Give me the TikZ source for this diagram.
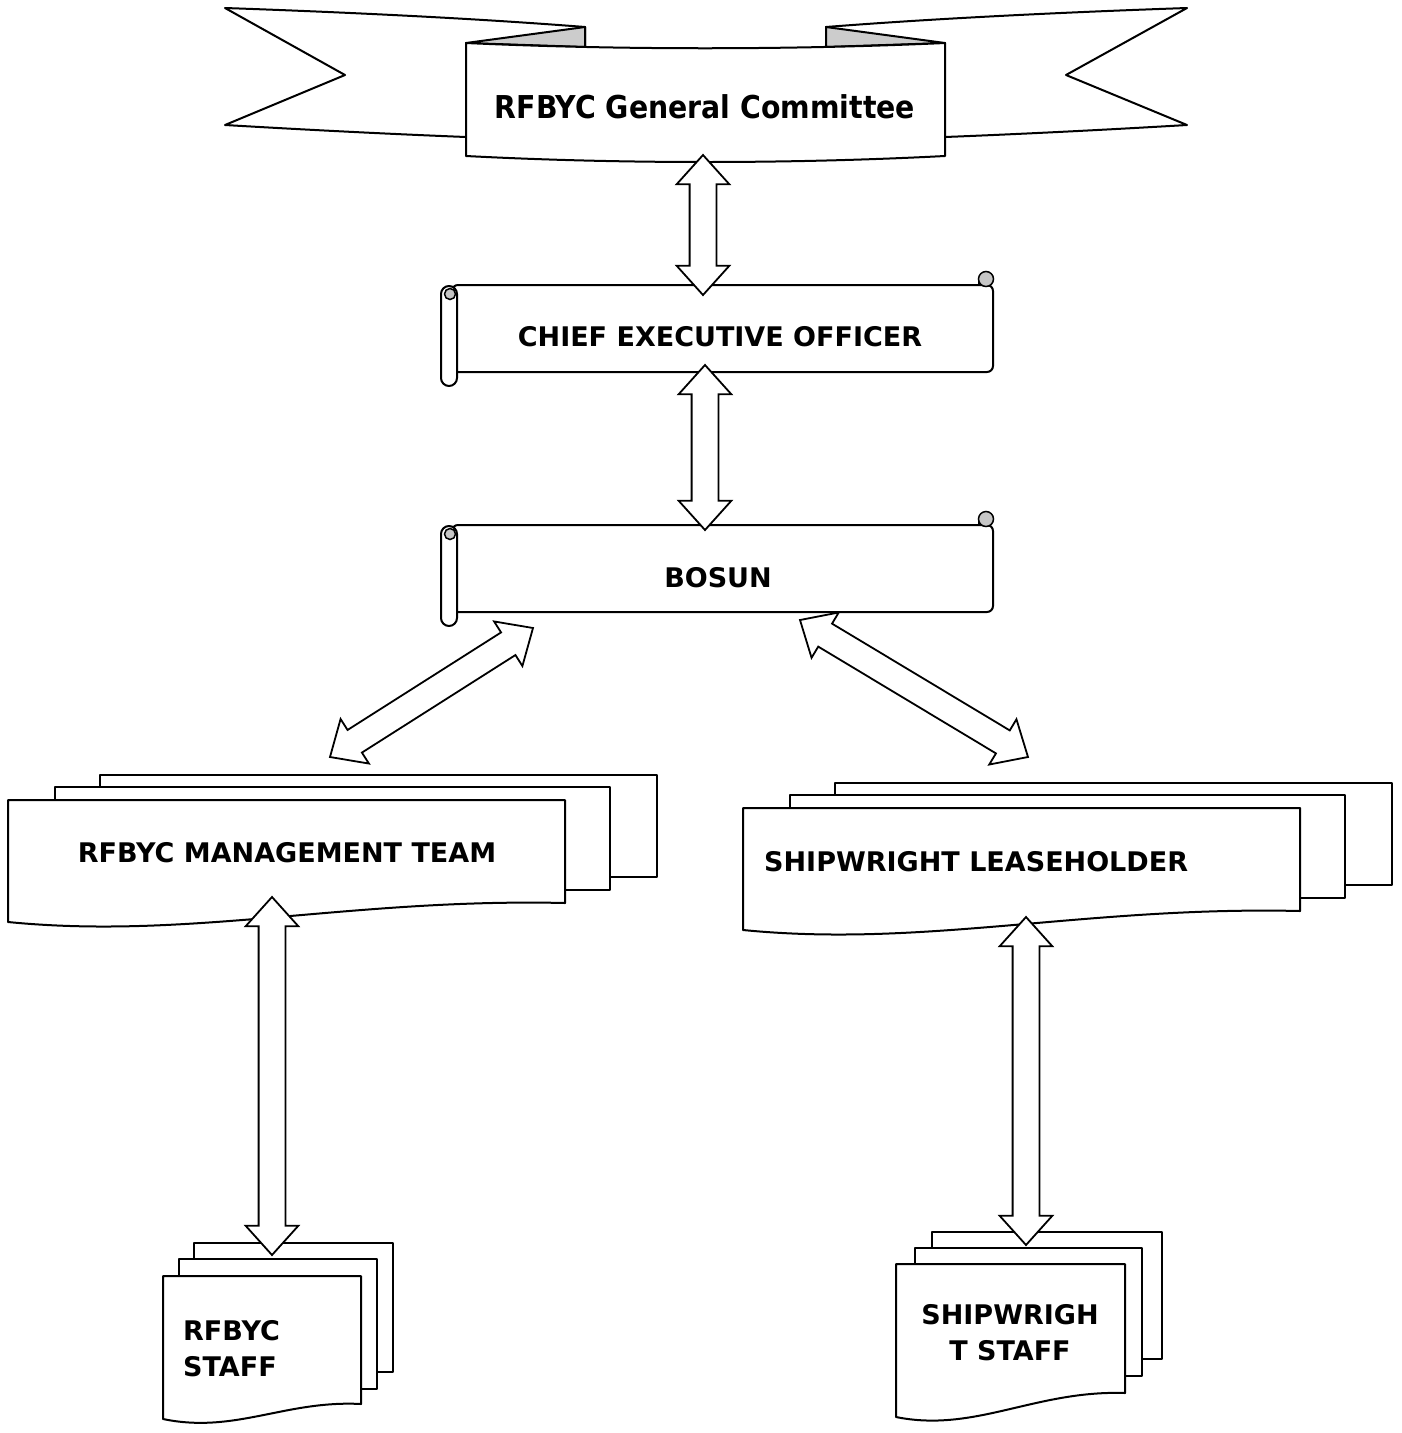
\documentclass[tikz,border=0pt]{standalone}
\usepackage{fontspec}
\setmainfont{DejaVu Sans}
\newfontfamily\titlefont{DejaVu Sans Condensed}
\usetikzlibrary{shapes.arrows, calc}
\tikzset{txt/.style={inner sep=0pt, font=\bfseries\fontsize{27}{36}\selectfont},
         titletxt/.style={inner sep=0pt, font=\titlefont\bfseries\fontsize{31.5}{40}\selectfont},
         sheet/.style={draw, fill=white, line width=2pt, line join=round},
         fold/.style={draw, fill=gray!40, line width=2pt, line join=round},
         curl/.style={draw, fill=gray!45, line width=1.5pt},
         dblarrow/.style={double arrow, draw, fill=white, line width=1.8pt,
                          inner xsep=0pt, inner ysep=12.5pt, minimum width=0pt,
                          double arrow head extend=13pt, double arrow tip angle=84},
        }
\newcommand{\blockarrow}[2]{\path let \p1=($(#2)-(#1)$), \n1={veclen(\x1,\y1)} in
    (#1) -- node[dblarrow, sloped, minimum height=\n1]{} (#2);}

\begin{document}
\begin{tikzpicture}[x=1pt, y=-1pt]
    \useasboundingbox (0,0) rectangle (1402,1433);

    % banner
    \draw[sheet] (585,27) .. controls (470,18) and (340,12) .. (225,8) -- (345,75) -- (225,125)
        .. controls (310,130) and (390,134) .. (466,137) -- (585,137) -- cycle;
    \draw[sheet] (826,27) .. controls (941,18) and (1071,12) .. (1187,8) -- (1066,75) -- (1187,125)
        .. controls (1102,130) and (1022,134) .. (945,137) -- (826,137) -- cycle;
    \draw[fold] (466,43) -- (585,27) -- (585,47) -- cycle;
    \draw[fold] (945,43) -- (826,27) -- (826,47) -- cycle;
    \draw[sheet] (466,43) .. controls (620,50) and (790,50) .. (945,43) -- (945,156)
        .. controls (790,164) and (620,164) .. (466,156) -- cycle;
    \node[titletxt] (gc) at (705,107) {RFBYC General Committee};

    % scrolls
    \foreach \dy in {0,240}{
        \begin{scope}[shift={(0,\dy)}]
            \draw[sheet, rounded corners=6] (452,285) -- (993,285) -- (993,372) -- (452,372) -- cycle;
            \draw[sheet] (979,285) |- (986,280);
            \draw[curl] (986,279) circle (7.5);
            \draw[sheet, rounded corners=8] (441,286) rectangle (457,386);
            \draw[curl] (450,294) circle (5.5);
        \end{scope}
    }
    \node[txt] (ceo) at (720,337) {CHIEF EXECUTIVE OFFICER};
    \node[txt] (bosun) at (718,578) {BOSUN};

    % management team and leaseholder
    \foreach \dx/\dy in {0/0, 735/8}{
        \begin{scope}[shift={(\dx,\dy)}]
            \draw[sheet] (100,775) rectangle (657,877);
            \draw[sheet] (55,787) rectangle (610,890);
            \draw[sheet] (8,800) -- (565,800) -- (565,903)
                .. controls (350,898) and (190,940) .. (8,922) -- cycle;
        \end{scope}
    }
    \node[txt] (mt) at (287,853) {RFBYC MANAGEMENT TEAM};
    \node[txt, anchor=west] (sl) at (764,862) {SHIPWRIGHT LEASEHOLDER};

    % staff
    \draw[sheet] (194,1243) rectangle (393,1372);
    \draw[sheet] (179,1259) rectangle (377,1389);
    \draw[sheet] (163,1276) -- (361,1276) -- (361,1404)
        .. controls (285,1400) and (235,1434) .. (163,1419) -- cycle;
    \node[txt, align=left, anchor=west] (rs) at (183,1349) {RFBYC\\STAFF};

    \draw[sheet] (932,1232) rectangle (1162,1359);
    \draw[sheet] (915,1248) rectangle (1142,1376);
    \draw[sheet] (896,1264) -- (1125,1264) -- (1125,1393)
        .. controls (1035,1390) and (975,1433) .. (896,1417) -- cycle;
    \node[txt, align=center] (ss) at (1010,1333) {SHIPWRIGH\\T STAFF};

    % arrow ends
    \coordinate (gc-out) at (703,155);
    \coordinate (ceo-in) at (703,295);
    \coordinate (ceo-out) at (705,365);
    \coordinate (bosun-in) at (705,530);
    \coordinate (bosun-l) at (533,628);
    \coordinate (mt-in) at (330,757);
    \coordinate (bosun-r) at (800,620);
    \coordinate (sl-in) at (1028,757);
    \coordinate (mt-out) at (272,897);
    \coordinate (rs-in) at (272,1255);
    \coordinate (sl-out) at (1026,917);
    \coordinate (ss-in) at (1026,1245);

    \blockarrow{gc-out}{ceo-in}
    \blockarrow{ceo-out}{bosun-in}
    \blockarrow{bosun-l}{mt-in}
    \blockarrow{bosun-r}{sl-in}
    \blockarrow{mt-out}{rs-in}
    \blockarrow{sl-out}{ss-in}
\end{tikzpicture}
\end{document}
